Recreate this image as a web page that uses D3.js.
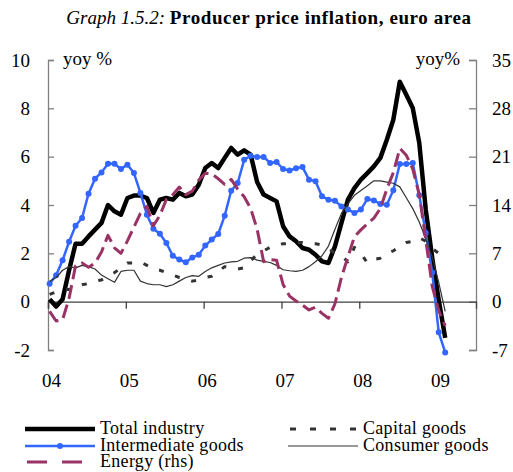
<!DOCTYPE html>
<html>
<head>
<meta charset="utf-8">
<script src="https://cdn.jsdelivr.net/npm/d3@7"></script>
<style>
  body { margin: 0; background: #fff; }
  svg { display: block; }
  text { font-family: "Liberation Serif", "Times New Roman", serif; fill: #000; }
</style>
</head>
<body>
<svg id="chart" width="513" height="472"></svg>
<script>
// monthly, Jan 2004 .. Feb 2009
var years = ["04", "05", "06", "07", "08", "09"]
var leftTicks = [-2, 0, 2, 4, 6, 8, 10]
var rightTicks = [-7, 0, 7, 14, 21, 28, 35]

var totalIndustry = [0.1, -0.2, 0.1, 1.3, 2.4, 2.4, 2.7, 2.98, 3.26, 4.0, 3.74, 3.6,
  4.29, 4.39, 4.39, 4.29, 3.67, 4.22, 4.29, 4.22, 4.5, 4.36, 4.43, 4.84,
  5.53, 5.74, 5.53, 5.95, 6.36, 6.08, 6.26, 6.08, 4.95, 4.43, 4.29, 4.15,
  3.12, 2.7, 2.5, 2.22, 2.15, 1.94, 1.67, 1.6, 2.29, 3.26, 4.22, 4.7,
  5.05, 5.32, 5.6, 5.95, 6.7, 7.53, 9.1, 8.56, 8.01, 6.57, 3.81, 1.81,
  0.08, -1.5]

var intermediate = [0.74, 1.09, 1.71, 2.48, 3.14, 3.46, 4.47, 5.09, 5.35, 5.71, 5.71, 5.49,
  5.67, 5.32, 4.5, 3.6, 3.02, 2.81, 2.43, 1.9, 1.74, 1.63, 1.83, 1.94,
  2.32, 2.57, 2.8, 3.56, 4.59, 4.91, 5.87, 6.04, 5.99, 5.99, 5.74, 5.78,
  5.49, 5.43, 5.52, 5.57, 5.05, 4.98, 4.36, 4.22, 4.18, 3.94, 3.81, 3.67,
  3.81, 4.25, 4.19, 4.04, 4.01, 4.61, 5.7, 5.7, 5.74, 4.4, 2.84, 1.21,
  -1.27, -2.1]

var capital = [0.3, 0.4, 0.5, 0.5, 0.6, 0.7, 0.75, 0.85, 0.9, 1.05, 1.2, 1.4,
  1.6, 1.6, 1.65, 1.5, 1.35, 1.3, 1.2, 1.1, 1.0, 0.95, 0.85, 0.9,
  1.0, 1.05, 1.25, 1.45, 1.4, 1.35, 1.4, 1.7, 1.95, 2.1, 2.25, 2.3,
  2.4, 2.4, 2.45, 2.45, 2.4, 2.4, 2.35, 2.2, 2.0, 1.9, 1.65, 2.25,
  2.0, 1.6, 1.75, 1.8, 2.0, 2.1, 2.3, 2.45, 2.5, 2.65, 2.5, 2.2,
  2.0, 1.7]

var consumer = [0.84, 1.0, 1.3, 1.45, 1.4, 1.5, 1.45, 1.35, 1.1, 0.95, 0.8, 1.25,
  1.3, 1.3, 0.85, 0.75, 0.7, 0.7, 0.62, 0.7, 0.85, 1.0, 1.08, 1.05,
  1.25, 1.4, 1.5, 1.6, 1.65, 1.67, 1.8, 1.82, 1.72, 1.67, 1.62, 1.5,
  1.32, 1.28, 1.25, 1.3, 1.45, 1.65, 1.9, 2.3, 3.0, 3.65, 4.05, 4.4,
  4.6, 4.8, 5.0, 5.0, 4.95, 4.9, 4.75, 4.3, 3.85, 3.3, 2.6, 1.85,
  0.8, -0.4]

// right-hand scale
var energy = [-1.4, -2.8, -2.6, 0.5, 5.2, 5.6, 5.0, 5.6, 7.2, 9.6, 7.8, 7.0,
  8.8, 10.8, 12.8, 13.8, 11.0, 12.5, 14.8, 15.5, 16.6, 15.5, 16.0, 17.6,
  18.6, 18.5, 17.8, 17.0, 17.7, 16.3, 15.2, 13.5, 10.5, 5.8, 6.1, 6.0,
  2.5, 0.8, 0.1, -0.5, -1.2, -0.8, -1.7, -2.4, -0.3, 3.5, 6.5, 9.4,
  10.4, 11.3, 12.1, 13.5, 16.3, 18.7, 22.2, 21.2, 19.2, 15.5, 9.0, 2.2,
  -1.3, -3.5]

var svg = d3.select("#chart")

var x = d3.scaleLinear().domain([0, 66]).range([48, 476])
var yL = d3.scaleLinear().domain([-2, 10]).range([350, 60])
var yR = d3.scaleLinear().domain([-7, 35]).range([350, 60])
var off = 0.25 // point position inside the month

// title
var title = svg.append("text")
  .attr("x", 269).attr("y", 24)
  .attr("text-anchor", "middle")
  .style("font-size", "19px")
title.append("tspan").style("font-style", "italic").text("Graph 1.5.2: ")
title.append("tspan").style("font-weight", "bold").style("letter-spacing", "0.6px")
  .text("Producer price inflation, euro area")

// axes (plain hyphen for negatives, as in the original)
var plain = d => String(d)
var axL = svg.append("g").attr("transform", "translate(48,0)")
  .call(d3.axisLeft(yL).tickValues(leftTicks).tickSize(-6).tickPadding(18).tickFormat(plain))
var axR = svg.append("g").attr("transform", "translate(476,0)")
  .call(d3.axisRight(yR).tickValues(rightTicks).tickSize(-7).tickPadding(16).tickFormat(plain))
var axB = svg.append("g").attr("transform", "translate(0," + yL(0) + ")")
  .call(d3.axisBottom(x).tickValues(years.map((d, i) => i * 12)).tickSize(7)
    .tickFormat((d, i) => years[i]))

;[axL, axR].forEach(function(g) {
  g.select(".domain").attr("stroke", "#808080").attr("stroke-width", 1.3)
  g.selectAll(".tick line").attr("stroke", "#808080").attr("stroke-width", 1.3)
})
axB.select(".domain").attr("stroke", "#404040").attr("stroke-width", 1.3)
axB.selectAll(".tick line").attr("stroke", "#404040").attr("stroke-width", 1.3)
svg.selectAll(".tick text")
  .style("font-family", '"Liberation Serif", serif')
  .style("font-size", "19px")
  .attr("fill", "#000")
axB.selectAll(".tick text").attr("x", 3).attr("y", 72)

svg.append("text").attr("x", 63).attr("y", 65).style("font-size", "19px").text("yoy %")
svg.append("text").attr("x", 460).attr("y", 65).attr("text-anchor", "end")
  .style("font-size", "19px").text("yoy%")

// series
var lineL = d3.line().x((d, i) => x(i + off)).y(d => yL(d))
var lineR = d3.line().x((d, i) => x(i + off)).y(d => yR(d))

var series = [
  { name: "Total industry", data: totalIndustry, line: lineL, color: "#000", width: 4.5 },
  { name: "Intermediate goods", data: intermediate, line: lineL, color: "#3366ff", width: 2.5, dots: true },
  { name: "Capital goods", data: capital, line: lineL, color: "#333", width: 3, dash: "5,12" },
  { name: "Consumer goods", data: consumer, line: lineL, color: "#333", width: 1.2 },
  { name: "Energy (rhs)", data: energy, line: lineR, color: "#993366", width: 3, dash: "14,6" }
]

series.forEach(function(s) {
  svg.append("path")
    .datum(s.data)
    .attr("d", s.line)
    .attr("fill", "none")
    .attr("stroke", s.color)
    .attr("stroke-width", s.width)
    .attr("stroke-linejoin", "round")
    .attr("stroke-dasharray", s.dash || null)
  if (s.dots) {
    svg.append("g").selectAll("circle")
      .data(s.data)
      .join("circle")
      .attr("cx", (d, i) => x(i + off))
      .attr("cy", d => yL(d))
      .attr("r", 3)
      .attr("fill", s.color)
  }
})

// legend
var legendPos = {
  "Total industry": [25, 429],
  "Capital goods": [288, 429],
  "Intermediate goods": [25, 446],
  "Consumer goods": [288, 446],
  "Energy (rhs)": [25, 462]
}
series.forEach(function(s) {
  var p = legendPos[s.name]
  var g = svg.append("g").attr("transform", "translate(" + p[0] + "," + p[1] + ")")
  g.append("line")
    .attr("x1", s.dash ? 2 : 0).attr("x2", s.dash ? 68 : 70)
    .attr("stroke", s.color)
    .attr("stroke-width", s.width)
    .attr("stroke-dasharray", s.dash ? (s.name == "Energy (rhs)" ? "20,15" : "6,14") : null)
  if (s.dots) g.append("circle").attr("cx", 35).attr("r", 3).attr("fill", s.color)
  g.append("text").attr("x", 75).attr("y", 5)
    .style("font-size", "18px").style("letter-spacing", "0.3px")
    .text(s.name)
})
</script>
</body>
</html>
